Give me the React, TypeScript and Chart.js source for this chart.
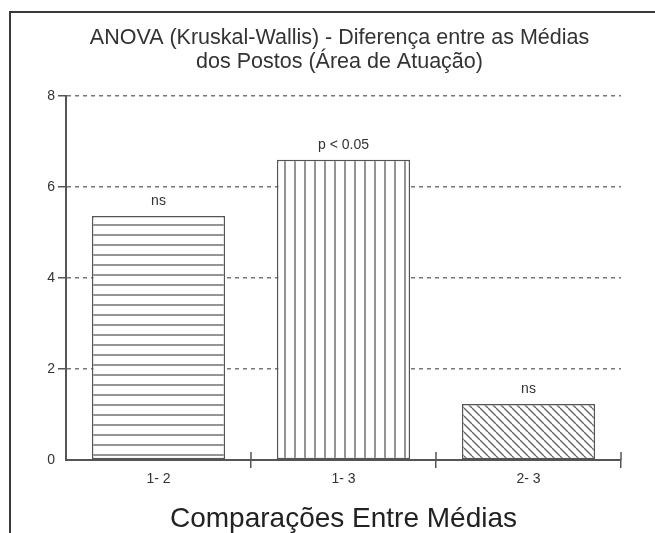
import React, { useEffect, useRef } from "react";
import { Chart, registerables } from "chart.js";

Chart.register(...registerables);

const titleLines = ["ANOVA (Kruskal-Wallis) - Diferença entre as Médias", "dos Postos (Área de Atuação)"];
const categories = ["1- 2", "1- 3", "2- 3"];
const values = [5.36, 6.6, 1.23];
const annotations = ["ns", "p < 0.05", "ns"];
const yTicks = [0, 2, 4, 6, 8];
const xTitle = "Comparações Entre Médias";

const FONT = "'Liberation Sans', Arial, sans-serif";
const LINE = "#555555";

function makePattern(kind: "h" | "v" | "d"): CanvasPattern | string {
  const c = document.createElement("canvas");
  const s = kind === "d" ? 8 : 10;
  c.width = s;
  c.height = s;
  const g = c.getContext("2d");
  if (!g) return "#fff";
  g.fillStyle = "#ffffff";
  g.fillRect(0, 0, s, s);
  g.strokeStyle = "#666666";
  g.lineWidth = 1.4;
  g.beginPath();
  if (kind === "h") {
    g.moveTo(0, s / 2);
    g.lineTo(s, s / 2);
  } else if (kind === "v") {
    g.moveTo(s / 2, 0);
    g.lineTo(s / 2, s);
  } else {
    for (const x0 of [-s, 0, s]) {
      g.moveTo(x0, 0);
      g.lineTo(x0 + s, s);
    }
  }
  g.stroke();
  const p = g.createPattern(c, "repeat");
  return p || "#fff";
}

const framePlugin = {
  id: "frame",
  beforeDraw(chart: any) {
    const ctx = chart.ctx;
    ctx.save();
    ctx.strokeStyle = "#3a3a3a";
    ctx.lineWidth = 2;
    ctx.beginPath();
    ctx.moveTo(10, chart.height);
    ctx.lineTo(10, 12);
    ctx.lineTo(chart.width, 12);
    ctx.stroke();
    // two-line title, centred over the plot area
    const cx = (chart.chartArea.left + chart.chartArea.right) / 2 - 4;
    ctx.font = `21.5px ${FONT}`;
    ctx.fillStyle = "#333333";
    ctx.textAlign = "center";
    ctx.textBaseline = "middle";
    titleLines.forEach((t, i) => ctx.fillText(t, cx, 38 + i * 24));
    ctx.restore();
  },
};

const labelPlugin = {
  id: "barLabels",
  afterDatasetsDraw(chart: any) {
    const ctx = chart.ctx;
    const meta = chart.getDatasetMeta(0);
    ctx.save();
    ctx.font = `14px ${FONT}`;
    ctx.fillStyle = "#333333";
    ctx.textAlign = "center";
    ctx.textBaseline = "middle";
    meta.data.forEach((bar: any, i: number) => {
      ctx.fillText(annotations[i], bar.x, bar.y - 15);
    });
    // upper half of category-separator ticks on the x axis
    const xs = chart.scales.x;
    const bottom = chart.chartArea.bottom;
    ctx.strokeStyle = LINE;
    ctx.lineWidth = 1.5;
    ctx.beginPath();
    for (let i = 0; i < categories.length; i++) {
      const x =
        i < categories.length - 1
          ? (xs.getPixelForValue(i) + xs.getPixelForValue(i + 1)) / 2
          : chart.chartArea.right;
      ctx.moveTo(x, bottom - 8);
      ctx.lineTo(x, bottom);
    }
    ctx.stroke();
    ctx.restore();
  },
};

export default function App() {
  const ref = useRef<HTMLCanvasElement | null>(null);
  useEffect(() => {
    if (!ref.current) return;
    const patterns = [makePattern("h"), makePattern("v"), makePattern("d")];
    const chart = new Chart(ref.current, {
      type: "bar",
      data: {
        labels: categories,
        datasets: [
          {
            data: values,
            backgroundColor: patterns as any,
            borderColor: LINE,
            borderWidth: 1.5,
            borderSkipped: false,
            categoryPercentage: 1,
            barPercentage: 0.72,
          },
        ],
      },
      options: {
        animation: false,
        responsive: false,
        maintainAspectRatio: false,
        layout: { padding: { left: 0, right: 34, top: 96, bottom: 0 } },
        plugins: {
          legend: { display: false },
          tooltip: { enabled: false },
          title: { display: false },
        },
        scales: {
          x: {
            offset: true,
            grid: {
              offset: true,
              drawOnChartArea: false,
              drawTicks: true,
              tickLength: 8,
              lineWidth: 1.5,
              color: LINE,
              tickColor: (c: any) => (c.index === 0 ? "rgba(0,0,0,0)" : LINE),
            },
            border: { display: true, color: LINE, width: 2 },
            ticks: {
              color: "#333333",
              font: { family: FONT, size: 14 },
              padding: 3,
            },
            title: {
              display: true,
              text: xTitle,
              color: "#222222",
              font: { family: FONT, size: 28, lineHeight: 1.0 },
              padding: { top: 0, bottom: 0 },
            },
            afterFit: (s: any) => {
              s.height = 73;
            },
          },
          y: {
            min: 0,
            max: 8,
            afterBuildTicks: (s: any) => {
              s.ticks = yTicks.map((v) => ({ value: v }));
            },
            grid: {
              color: (c: any) => (c.tick && c.tick.value === 0 ? "rgba(0,0,0,0)" : "#777777"),
              lineWidth: 1.5,
              tickLength: 8,
              tickColor: (c: any) => (c.tick && c.tick.value === 0 ? "rgba(0,0,0,0)" : LINE),
              tickBorderDash: [],
            },
            border: { display: true, color: LINE, width: 2, dash: [4, 4] },
            ticks: {
              color: "#333333",
              font: { family: FONT, size: 14 },
              padding: 3,
            },
            afterFit: (s: any) => {
              s.width = 66;
            },
          },
        },
      },
      plugins: [framePlugin, labelPlugin],
    });
    return () => chart.destroy();
  }, []);
  return (
    <div style={{ position: "absolute", left: 0, top: 0, width: 655, height: 533, background: "#fff" }}>
      <canvas ref={ref} width={655} height={533} />
    </div>
  );
}
